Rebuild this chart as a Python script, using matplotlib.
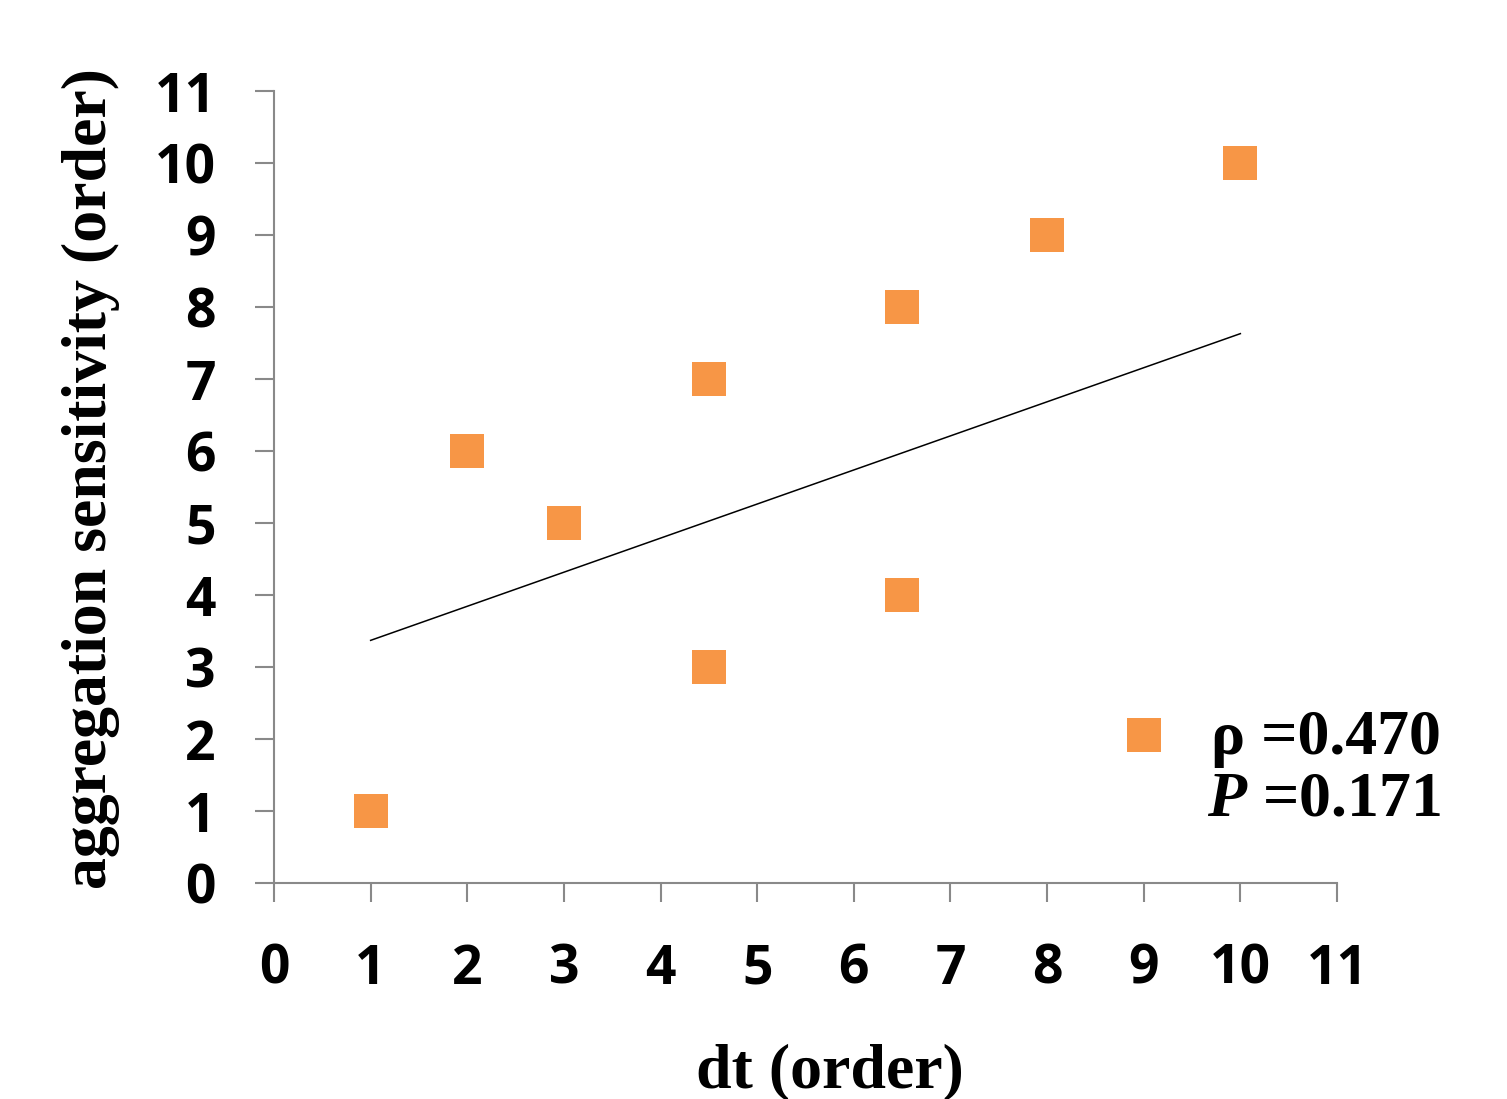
import matplotlib
matplotlib.use("Agg")
import matplotlib.pyplot as plt
from matplotlib.lines import Line2D

# data
dt_order = [1, 2, 3, 4.5, 4.5, 6.5, 6.5, 8, 10]
sens_order = [1, 6, 5, 7, 3, 8, 4, 9, 10]
trend_x = [1, 10]
trend_y = [3.37, 7.63]
ticks = list(range(0, 12))
rho_text = "ρ =0.470"
p_text = " =0.171"

orange = "#F79646"
grey = "#898989"

plt.rcParams["mathtext.fontset"] = "custom"
plt.rcParams["mathtext.it"] = "Liberation Serif:italic:bold"

fig = plt.figure(figsize=(15.07, 10.99), dpi=100)
ax = fig.add_axes([274 / 1507, 1 - 883 / 1099, 1063 / 1507, 792 / 1099])

ax.scatter(dt_order, sens_order, marker="s", s=600, color=orange, linewidths=0, zorder=3)
ax.plot(trend_x, trend_y, color="black", linewidth=1.1, zorder=2)

ax.set_xlim(0, 11)
ax.set_ylim(0, 11)
ax.set_xticks(ticks)
ax.set_yticks(ticks)
ax.spines["top"].set_visible(False)
ax.spines["right"].set_visible(False)
for s in ("left", "bottom"):
    ax.spines[s].set_color(grey)
    ax.spines[s].set_linewidth(1.5)
ax.tick_params(axis="both", direction="out", length=14, width=1.5, color=grey)
ax.tick_params(axis="y", pad=28)
ax.tick_params(axis="x", pad=29)
for lab in ax.get_xticklabels() + ax.get_yticklabels():
    lab.set_fontfamily("Open Sans")
    lab.set_fontweight("bold")
    lab.set_fontsize(38.5)

ax.set_xlabel("dt (order)", fontfamily="Liberation Serif", fontweight="bold", fontsize=46)
ax.set_ylabel("aggregation sensitivity (order)", fontfamily="Liberation Serif",
              fontweight="bold", fontsize=46)
ax.xaxis.set_label_coords(0.523, -0.203)
ax.yaxis.set_label_coords(-0.145, 0.511)

handle = Line2D([], [], marker="s", markersize=24.5, color=orange, linestyle="none",
                markeredgewidth=0)
leg = fig.legend([handle], [rho_text], loc="center left",
                 bbox_to_anchor=(1080 / 1507, 1 - 739 / 1099), frameon=False,
                 borderpad=0, handlelength=1, handleheight=0.3, handletextpad=0.55,
                 prop={"family": "Liberation Serif", "weight": "bold", "size": 46})

fig.text(1207 / 1507, 1 - 815 / 1099, r"$\mathit{P}$" + p_text,
         fontfamily="Liberation Serif", fontweight="bold", fontsize=46,
         ha="left", va="baseline")

fig.savefig("out.png", dpi=100)
